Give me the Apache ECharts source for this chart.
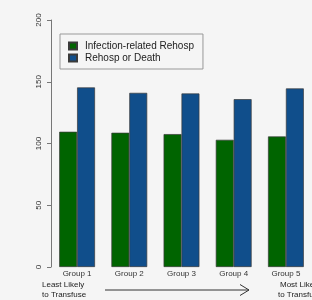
<!DOCTYPE html>
<html>
<head>
<meta charset="utf-8">
<script src="https://cdn.jsdelivr.net/npm/echarts@6/dist/echarts.min.js"></script>
<style>
  html, body { margin: 0; padding: 0; background: #f5f5f5; }
  #chart { width: 312px; height: 300px; }
</style>
</head>
<body>
<div id="chart"></div>
<script>
// groups along the x axis
const groups = ["Group 1", "Group 2", "Group 3", "Group 4", "Group 5"];
// series values
const infectionRehosp = [109.5, 108.7, 107.6, 103.0, 105.7];
const rehospOrDeath = [145.4, 141.0, 140.5, 135.9, 144.6];
// y axis ticks
const yTicks = [0, 50, 100, 150, 200];

const font = "Liberation Sans, Arial, sans-serif";

const chart = echarts.init(document.getElementById("chart"));

chart.setOption({
  backgroundColor: "#f5f5f5",
  animation: false,
  textStyle: { fontFamily: font },
  legend: {
    orient: "vertical",
    left: 60,
    top: 34,
    width: 144,
    padding: [6, 9, 5, 8],
    itemGap: 0,
    itemWidth: 8,
    itemHeight: 7,
    icon: "rect",
    borderColor: "#999",
    borderWidth: 1,
    textStyle: { fontSize: 10, color: "#222", lineHeight: 12, padding: [0, 0, 0, 3] },
    data: ["Infection-related Rehosp", "Rehosp or Death"]
  },
  grid: { left: 51, right: -8, top: 20, bottom: 33 },
  xAxis: {
    type: "category",
    data: groups,
    axisLine: { show: false },
    axisTick: { show: false },
    axisLabel: { fontSize: 8, color: "#333", margin: 3 }
  },
  yAxis: {
    type: "value",
    min: yTicks[0],
    max: yTicks[yTicks.length - 1],
    interval: 50,
    splitLine: { show: false },
    axisLine: { show: true, lineStyle: { color: "#777" } },
    axisTick: { show: true, length: 4, lineStyle: { color: "#777" } },
    axisLabel: { rotate: 90, fontSize: 8, color: "#333", margin: 8 }
  },
  series: [
    {
      name: "Infection-related Rehosp",
      type: "bar",
      data: infectionRehosp,
      barWidth: 17.9,
      barGap: "0%",
      itemStyle: { color: "#006400", borderColor: "#3a3a3a", borderWidth: 0.7 }
    },
    {
      name: "Rehosp or Death",
      type: "bar",
      data: rehospOrDeath,
      barWidth: 17.9,
      barGap: "0%",
      itemStyle: { color: "#104E8B", borderColor: "#3a3a3a", borderWidth: 0.7 }
    }
  ],
  graphic: [
    {
      type: "text", left: 42, top: 280,
      style: { text: "Least Likely\nto Transfuse", font: "8px " + font, fill: "#222", lineHeight: 10 }
    },
    {
      type: "text", x: 300, y: 280,
      style: { text: "Most Likely\nto Transfuse", font: "8px " + font, fill: "#222", lineHeight: 10, align: "center" }
    },
    {
      type: "polyline",
      shape: { points: [[105, 290], [249, 290]] },
      style: { stroke: "#333", lineWidth: 1 }
    },
    {
      type: "polyline",
      shape: { points: [[240, 284.5], [249, 290], [240, 295.5]] },
      style: { stroke: "#333", lineWidth: 1, fill: null }
    }
  ]
});
</script>
</body>
</html>
